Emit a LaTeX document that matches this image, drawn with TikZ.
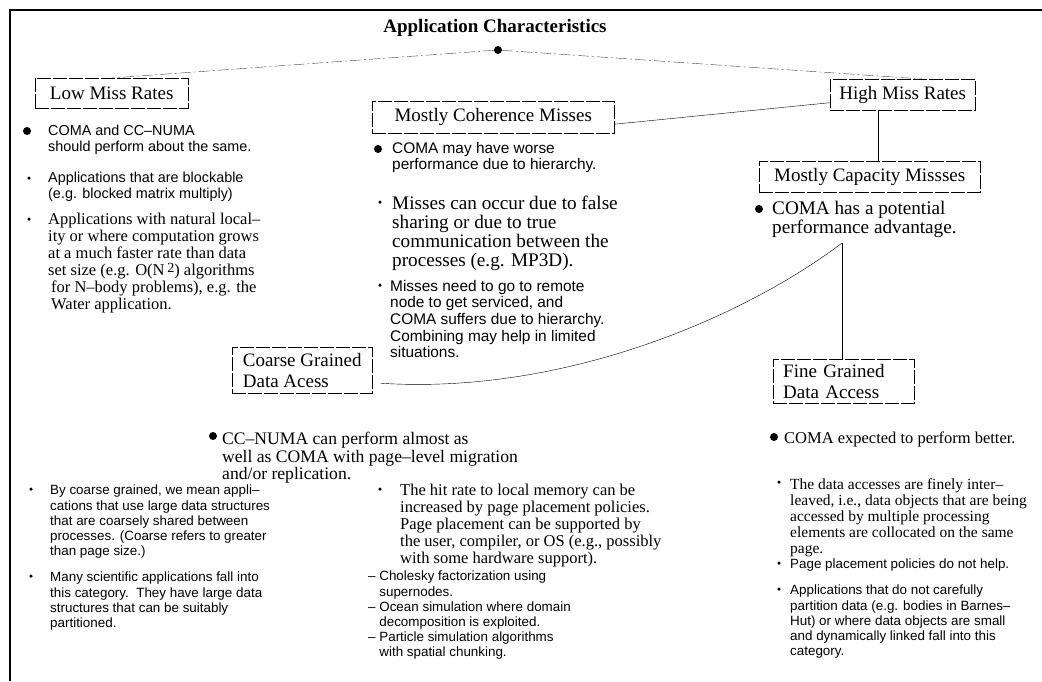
\documentclass[tikz,border=0pt]{standalone}
\usepackage{fontspec}
\setmainfont{Liberation Serif}
\setsansfont{Liberation Sans}
\usepackage{tikz}
\usetikzlibrary{
  calc,  % Calculations $...$
}
\tikzset{
  semithick,
  frame/.style={
    line width=2pt
  },
  my box/.style={
    draw,
    thin,
    dash pattern=on 14pt off 2pt,
    rectangle,
    anchor=north west,
    inner sep=0pt,
    font=\fontsize{19}{21}\selectfont
  },
  big dot/.style={
    circle,
    fill,
    inner sep=0pt,
    minimum size=8pt
  },
  small dot/.style={
    circle,
    fill,
    inner sep=0pt,
    minimum size=3.5pt
  },
  serif text/.style={
    anchor=north west,
    inner sep=0pt,
    align=left,
    font=\fontsize{16.5}{17}\selectfont
  },
  serif big/.style={
    serif text,
    font=\fontsize{19.2}{19}\selectfont
  },
  sans text/.style={
    anchor=north west,
    inner sep=0pt,
    align=left,
    font=\sffamily\fontsize{14.4}{16}\selectfont
  },
  sans mid/.style={
    sans text,
    font=\sffamily\fontsize{15.4}{16.6}\selectfont
  },
  sans small/.style={
    sans text,
    font=\sffamily\fontsize{13.4}{15.2}\selectfont
  },
  tree line/.style={
    thin,
    black!75,
    dash pattern=on 11pt off 3pt on 2pt off 3pt
  },
  link/.style={
    thin
  }
}

\begin{document}
\begin{tikzpicture}[x=1pt,y=-1pt]
\useasboundingbox (0,0) rectangle (1042,681);
\draw[frame] (10,681) -- (10,10) -- (1042,10);

% root and first level
\node[font=\bfseries\fontsize{19}{21}\selectfont] (title) at (495,28) {Application Characteristics};
\node[big dot] (root) at (498,50) {};
\node[my box, minimum width=153pt, minimum height=30pt] (low) at (35,78) {Low Miss Rates};
\node[my box, minimum width=145pt, minimum height=31pt] (high) at (830,79) {High Miss Rates};
\node[my box, minimum width=242pt, minimum height=32pt] (coh) at (372,101) {Mostly Coherence Misses};
\node[my box, minimum width=221pt, minimum height=31pt] (cap) at (759,161) {Mostly Capacity Missses};
\node[my box, minimum width=140pt, minimum height=46pt, align=left] (coarse) at (232,347) {Coarse Grained\\Data Acess};
\node[my box, minimum width=141pt, minimum height=44pt, inner xsep=10pt, text width=121pt, align=left] (fine) at (773,359) {Fine Grained\\Data Access};

% low miss rates
\node[big dot] (dot low1) at (27,131) {};
\node[sans text] (low1) at (48,125) {COMA and CC--NUMA\\should perform about the same.};
\node[small dot] (dot low2) at (29,178) {};
\node[sans text] (low2) at (48,172) {Applications that are blockable\\(e.g. blocked matrix multiply)};
\node[small dot] (dot low3) at (29,219) {};
\node[serif text] (low3) at (48,213) {Applications with natural local--\\ity or where computation grows\\at a much faster rate than data\\set size (e.g. O(N\,\raisebox{0.45ex}{\fontsize{14}{14}\selectfont 2}) algorithms\\\hspace*{3pt}for N--body problems), e.g. the\\\hspace*{3pt}Water application.};

% coherence misses
\node[big dot] (dot coh1) at (378,149) {};
\node[sans mid] (coh1) at (392,142) {COMA may have worse\\performance due to hierarchy.};
\node[small dot] (dot coh2) at (380,202) {};
\node[serif big] (coh2) at (392,196) {Misses can occur due to false\\sharing or due to true\\communication between the\\processes (e.g. MP3D).};
\node[small dot] (dot coh3) at (380,285) {};
\node[sans mid] (coh3) at (390,280) {Misses need to go to remote\\node to get serviced, and\\COMA suffers due to hierarchy.\\Combining may help in limited\\situations.};

% capacity misses
\node[big dot] (dot cap1) at (759,209) {};
\node[serif big] (cap1) at (772,201) {COMA has a potential\\performance advantage.};

% coarse grained
\node[big dot] (dot coarse1) at (213,436) {};
\node[serif text, font=\fontsize{17.6}{17.5}\selectfont] (coarse1) at (222,432) {CC--NUMA can perform almost as\\well as COMA with page--level migration\\and/or replication.};
\node[small dot] (dot coarse2) at (31,489) {};
\node[sans small] (coarse2) at (50,485) {By coarse grained, we mean appli--\\cations that use large data structures\\that are coarsely shared between\\processes. (Coarse refers to greater\\than page size.)};
\node[small dot] (dot coarse3) at (31,576) {};
\node[sans small] (coarse3) at (50,572) {Many scientific applications fall into\\this category.\ \ They have large data\\structures that can be suitably\\partitioned.};
\node[small dot] (dot coarse4) at (380,489) {};
\node[serif text] (coarse4) at (400,484) {The hit rate to local memory can be\\increased by page placement policies.\\Page placement can be supported by\\the user, compiler, or OS (e.g., possibly\\with some hardware support).};
\node[sans small] (coarse5) at (368,571) {-- Cholesky factorization using\\\phantom{-- }supernodes.\\-- Ocean simulation where domain\\\phantom{-- }decomposition is exploited.\\-- Particle simulation algorithms\\\phantom{-- }with spatial chunking.};

% fine grained
\node[big dot] (dot fine1) at (774,437) {};
\node[serif text] (fine1) at (784,432) {COMA expected to perform better.};
\node[small dot] (dot fine2) at (779,482) {};
\node[serif text, font=\fontsize{15.5}{16}\selectfont] (fine2) at (790,478) {The data accesses are finely inter--\\leaved, i.e., data objects that are being\\accessed by multiple processing\\elements are collocated on the same\\page.};
\node[small dot] (dot fine3) at (779,563) {};
\node[sans small] (fine3) at (790,559) {Page placement policies do not help.};
\node[small dot] (dot fine4) at (779,589) {};
\node[sans small] (fine4) at (790,585) {Applications that do not carefully\\partition data (e.g. bodies in Barnes--\\Hut) or where data objects are small\\and dynamically linked fall into this\\category.};

% connectors
\draw[tree line] (root) -- (low.north);
\draw[tree line] (root) -- ($(high.north)+(20,0)$);
\draw[link] ($(coh.east)+(0,7)$) -- ($(high.west)+(0,8)$);
\coordinate (cap top) at ($(cap.north)+(8,0)$);
\draw[link] (cap top) -- (cap top |- high.south);
\coordinate (fork) at (842,243);
\coordinate (coarse end) at ($(coarse.east)+(8,13)$);
\draw[link] (fork) -- (fork |- fine.north);
\draw[link] (fork) .. controls (740,320) and (560,395) .. (coarse end);
\end{tikzpicture}
\end{document}
